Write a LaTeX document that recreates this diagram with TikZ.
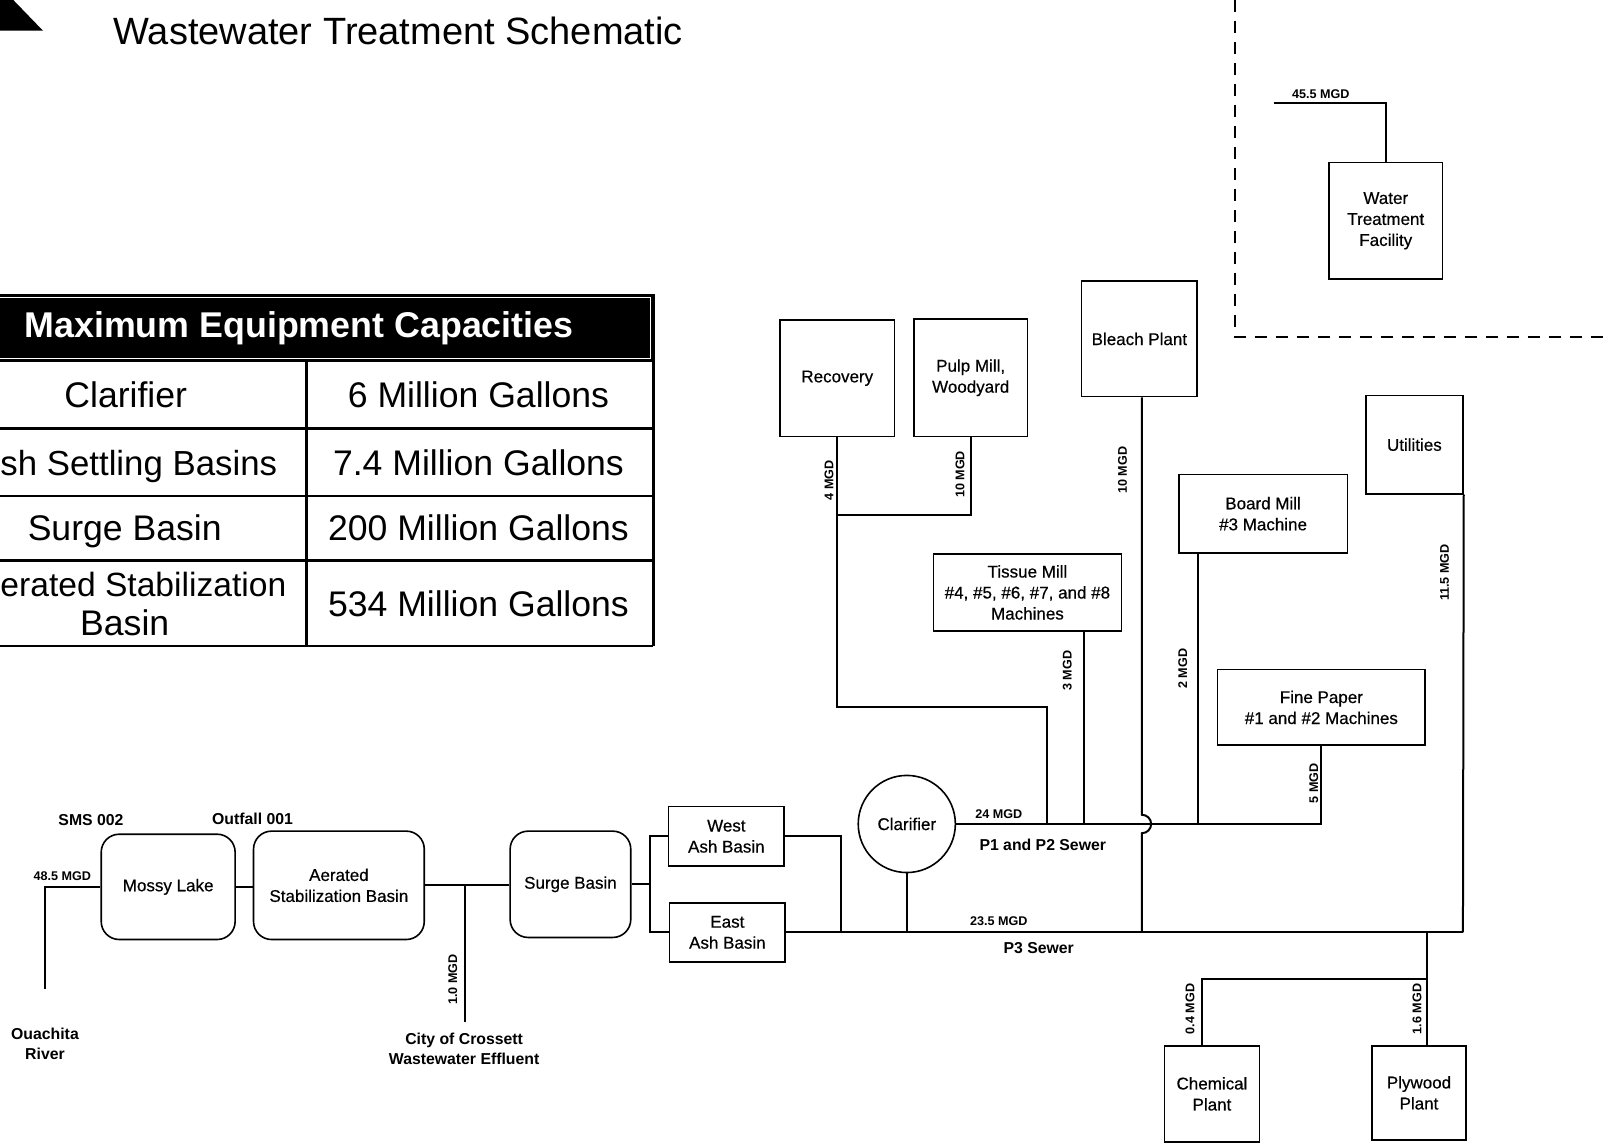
\documentclass[tikz,border=0pt]{standalone}
\usepackage{fontspec}
\setmainfont{Liberation Sans}
\newfontfamily\boxfont[FakeBold=0.5]{Liberation Sans}
\begin{document}
\begin{tikzpicture}[x=0.51115pt,y=-0.51115pt,
  line width=1pt,
  box/.style={draw, line width=0.8pt, inner sep=0pt, font=\boxfont\fontsize{8.5}{10.5}\selectfont, align=center},
  rbox/.style={box, rounded corners=9pt},
  sz/.style 2 args={minimum width=#1*0.51115pt, minimum height=#2*0.51115pt},
  lab/.style={inner sep=0pt, font=\bfseries\fontsize{6.3}{7.5}\selectfont},
  vlab/.style={lab, rotate=90},
  note/.style={inner sep=0pt, font=\bfseries\fontsize{7.9}{10}\selectfont, align=center},
  tab/.style={inner sep=0pt, font=\fontsize{17.8}{20}\selectfont, align=center, text height=0.716em, text depth=0pt},
  grid/.style={line width=1.3pt},
]
\useasboundingbox (0,0) rectangle (1568,1119);
\clip (0,0) rectangle (1568,1119);

% title and corner mark
\fill (0,0) -- (13,0) -- (42,30) -- (0,30) -- cycle;
\node[inner sep=0pt, font=\fontsize{19}{22}\selectfont] (title) at (389.5,30) {Wastewater Treatment Schematic};

% ---------- table ----------
\fill[black] (-5,288) rectangle (640,354);
\draw[white, line width=0.6pt] (-5,291) -- (636.5,291) -- (636.5,351) -- (-5,351);
\node[inner sep=0pt, text=white, font=\bfseries\fontsize{17.9}{20}\selectfont] (thead) at (292.5,321) {Maximum Equipment Capacities};
\draw[grid] (-5,419) -- (639,419);
\draw[grid] (-5,485) -- (639,485);
\draw[grid] (-5,548) -- (639,548);
\draw[grid] (-5,632) -- (639,632);
\draw[grid] (300,354) -- (300,632);
\draw[grid] (639,288) -- (639,632);
\node[tab] (t1a) at (123,392) {Clarifier};
\node[tab] (t1b) at (468,392) {6 Million Gallons};
\node[tab, anchor=east, font=\fontsize{17.4}{20}\selectfont] (t2a) at (272,458) {sh Settling Basins};
\node[tab] (t2b) at (468,458) {7.4 Million Gallons};
\node[tab] (t3a) at (122,522) {Surge Basin};
\node[tab] (t3b) at (468,522) {200 Million Gallons};
\node[tab, anchor=east, font=\fontsize{16.8}{20}\selectfont] (t4a) at (281,576) {erated Stabilization};
\node[tab] (t4c) at (122,615) {Basin};
\node[tab] (t4b) at (468,596) {534 Million Gallons};

% ---------- boxes ----------
\node[rbox, sz={131}{103}] (mossy) at (164.5,867.5) {Mossy Lake};
\node[rbox, sz={167}{106}] (aer) at (331.5,866) {Aerated\\Stabilization Basin};
\node[rbox, sz={118}{104}] (surge) at (558,865) {Surge Basin};
\node[box, sz={113}{58}] (west) at (710.5,818) {West\\Ash Basin};
\node[box, sz={113}{58}] (east) at (711.5,912) {East\\Ash Basin};
\node[box, circle, minimum size=95*0.51115pt] (clar) at (887,806) {Clarifier};
\node[box, sz={112}{114}] (rec) at (819,370) {Recovery};
\node[box, sz={111}{115}] (pulp) at (949.5,369.5) {Pulp Mill,\\Woodyard};
\node[box, sz={113}{113}, text depth=0pt] (bleach) at (1114.5,331.5) {Bleach Plant};
\node[box, sz={184}{75}] (tissue) at (1005,579.5) {Tissue Mill\\\#4, \#5, \#6, \#7, and \#8\\Machines};
\node[box, sz={165}{77}] (board) at (1235.5,502.5) {Board Mill\\\#3 Machine};
\node[box, sz={95}{96}] (util) at (1383.5,435) {Utilities};
\node[box, sz={203}{74}] (fine) at (1292.5,692) {Fine Paper\\\#1 and \#2 Machines};
\node[box, sz={111}{114}] (wtf) at (1355.5,216) {Water\\Treatment\\Facility};
\node[box, sz={93}{94}] (chem) at (1185.5,1070) {Chemical\\Plant};
\node[box, sz={92}{92}] (ply) at (1388,1069) {Plywood\\Plant};

% ---------- free ends / junctions ----------
\coordinate (riv) at (44,967);
\coordinate (cityj) at (455,866);
\coordinate (cityend) at (455,1000);
\coordinate (split) at (636,865);
\coordinate (wj) at (823,912);
\coordinate (p3e) at (1431,912);
\coordinate (rj) at (819,504);
\coordinate (rk) at (819,692);
\coordinate (rp) at (1024,806);
\coordinate (tj) at (1060,806);
\coordinate (hopT) at (1117,797);
\coordinate (hopB) at (1117,912);
\coordinate (bj) at (1172,806);
\coordinate (pj) at (1396,958);
\coordinate (cj) at (1176,958);
\coordinate (wtj) at (1246,101);

% ---------- connectors ----------
\draw (riv) |- (mossy.west);
\draw (mossy.east) -- (mossy.east -| aer.west);
\draw (aer.east) -- (aer.east -| surge.west);
\draw (cityj) -- (cityend);
\draw (surge.east) -- (split);
\draw (west.west) -| (split) |- (east.west);
\draw (west.east) -| (wj);
\draw (east.east) -- (p3e);
\draw (clar.south) -- (clar.south |- p3e);
\draw (clar.east) -| (fine.south);
\draw (rec.south) -- (rk) -| (rp);
\draw (pulp.south) |- (rj);
\draw (tissue.south -| tj) -- (tj);
\draw (bleach.south -| hopT) -- (hopT) arc[start angle=90, end angle=-90, radius=4.6pt] -- (hopB);
\draw (board.south -| bj) -- (bj);
\draw (util.south east) -- (p3e);
\draw (pj |- p3e) -- (ply.north -| pj);
\draw (pj) -- (cj) -- (chem.north -| cj);
\draw (wtj) -| (wtf.north);

% dashed boundary
\draw[dashed, line width=0.9pt, dash pattern=on 6pt off 4.5pt] (1208,0) -- (1208,330) -- (1570,330);

% ---------- labels ----------
\node[lab] (l485) at (61,857) {48.5 MGD};
\node[note] (sms) at (89,802) {SMS 002};
\node[note] (outf) at (247,801) {Outfall 001};
\node[note] (ouach) at (44,1021) {Ouachita\\River};
\node[vlab] (l10c) at (443,958) {1.0 MGD};
\node[note] (city) at (454,1026) {City of Crossett\\Wastewater Effluent};
\node[lab] (l24) at (977,796) {24 MGD};
\node[note] (p12) at (1020,826) {P1 and P2 Sewer};
\node[lab] (l235) at (977,901) {23.5 MGD};
\node[note] (p3) at (1016,927) {P3 Sewer};
\node[vlab] (l4) at (811,470) {4 MGD};
\node[vlab] (l10p) at (939,464) {10 MGD};
\node[vlab] (l10b) at (1098,460) {10 MGD};
\node[vlab] (l3) at (1044,656) {3 MGD};
\node[vlab] (l2) at (1157,654) {2 MGD};
\node[vlab] (l5) at (1285,766) {5 MGD};
\node[vlab] (l115) at (1413,560) {11.5 MGD};
\node[vlab] (l04) at (1164,987) {0.4 MGD};
\node[vlab] (l16) at (1386,987) {1.6 MGD};
\node[lab] (l455) at (1292,92) {45.5 MGD};
\end{tikzpicture}
\end{document}
